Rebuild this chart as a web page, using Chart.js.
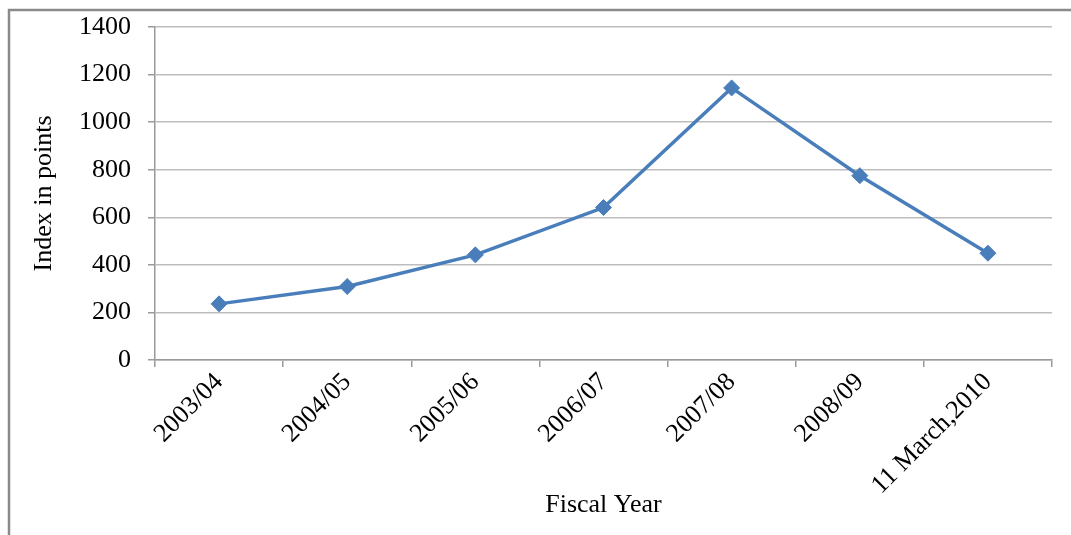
<!DOCTYPE html>
<html>
<head>
<meta charset="utf-8">
<script src="https://cdn.jsdelivr.net/npm/chart.js@4/dist/chart.umd.min.js"></script>
<style>
  html, body { margin: 0; padding: 0; background: #ffffff; }
  #wrap { position: relative; width: 1071px; height: 535px; }
</style>
</head>
<body>
<div id="wrap"><canvas id="chart"></canvas></div>
<script>
// Fiscal years and the index value at the end of each
const fiscalYears = ['2003/04', '2004/05', '2005/06', '2006/07', '2007/08', '2008/09', '11 March,2010'];
const indexPoints = [236, 309, 442, 641, 1144, 775, 449];

// Value axis range
const yMin = 0;
const yMax = 1400;
const yStep = 200;

const SERIF = '"Liberation Serif", "Times New Roman", serif';
const LINE_BLUE = '#4a7ebb';
const GRID_GREY = '#bdbdbd';
const TEXT = '#000000';

// Gray frame around the whole figure
const framePlugin = {
  id: 'frame',
  afterDraw(chart) {
    const ctx = chart.ctx;
    ctx.save();
    ctx.strokeStyle = '#8a8a8a';
    ctx.lineWidth = 2.5;
    ctx.strokeRect(9, 10, chart.width + 40, chart.height + 40);
    ctx.restore();
  }
};

new Chart(document.getElementById('chart'), {
  type: 'line',
  data: {
    labels: fiscalYears,
    datasets: [{
      label: 'Index in points',
      data: indexPoints,
      borderColor: LINE_BLUE,
      backgroundColor: LINE_BLUE,
      borderWidth: 3.5,
      tension: 0,
      pointStyle: 'rectRot',
      pointRadius: 8,
      pointBorderWidth: 1,
      pointBackgroundColor: LINE_BLUE,
      pointBorderColor: LINE_BLUE
    }]
  },
  options: {
    responsive: true,
    maintainAspectRatio: false,
    animation: false,
    layout: { padding: { top: 27, right: 19, bottom: 0, left: 0 } },
    plugins: {
      legend: { display: false },
      tooltip: { enabled: false }
    },
    scales: {
      x: {
        type: 'category',
        offset: true,
        afterFit(scale) {
          scale.height = 175;
          scale.paddingLeft = 0;
          scale.paddingRight = 0;
        },
        grid: {
          display: true,
          offset: true,
          drawOnChartArea: false,
          drawTicks: true,
          tickLength: 7,
          color: '#9a9a9a',
          lineWidth: 1.5
        },
        border: { display: true, color: '#9a9a9a', width: 1.5 },
        ticks: {
          color: TEXT,
          font: { family: SERIF, size: 26 },
          minRotation: 45,
          maxRotation: 45,
          autoSkip: false,
          padding: 0
        },
        title: {
          display: true,
          text: 'Fiscal Year',
          color: TEXT,
          font: { family: SERIF, size: 26 },
          padding: { top: 0, bottom: 14 }
        }
      },
      y: {
        min: yMin,
        max: yMax,
        afterFit(scale) {
          scale.width = 155;
          scale.paddingTop = 0;
          scale.paddingBottom = 0;
        },
        grid: {
          color: GRID_GREY,
          lineWidth: 1.5,
          drawTicks: true,
          tickLength: 7,
          tickColor: '#9a9a9a'
        },
        border: { display: true, color: '#9a9a9a', width: 1.5 },
        ticks: {
          stepSize: yStep,
          color: TEXT,
          font: { family: SERIF, size: 26 },
          padding: 17,
          callback: (value) => String(value)
        },
        title: {
          display: true,
          text: 'Index in points',
          color: TEXT,
          font: { family: SERIF, size: 26 },
          padding: { top: 29, bottom: 0 }
        }
      }
    }
  },
  plugins: [framePlugin]
});
</script>
</body>
</html>
